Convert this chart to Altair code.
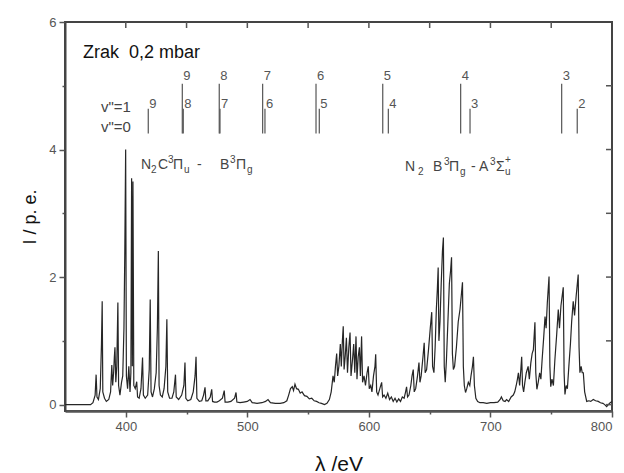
import altair as alt
import pandas as pd

# Emission spectrum of air at 0.2 mbar (wavelength, intensity in arbitrary units)
wavelength = [
    350.0, 371.0, 373.0, 374.8, 375.6, 376.3, 377.5, 379.0, 380.0, 380.6,
    381.1, 382.5, 384.0, 386.0, 387.5, 388.5, 389.2, 390.0, 390.6, 391.1,
    391.8, 392.6, 393.5, 394.1, 395.2, 396.5, 397.5, 398.5, 399.2, 399.9,
    400.5, 401.5, 402.5, 403.5, 404.2, 404.8, 405.4, 405.9, 406.6, 407.8,
    409.0, 409.7, 411.0, 412.5, 413.8, 414.5, 416.0, 418.0, 419.3, 420.1,
    420.8, 422.0, 423.5, 425.0, 426.0, 426.8, 427.4, 428.5, 430.0, 431.5,
    433.0, 433.8, 434.5, 436.0, 438.0, 439.5, 440.9, 441.5, 443.5, 446.0,
    447.8, 448.7, 449.4, 451.0, 453.5, 455.5, 457.0, 457.8, 458.5, 460.5,
    462.5, 464.0, 465.2, 465.9, 467.5, 469.5, 470.7, 471.4, 473.0, 475.0,
    477.0, 479.5, 481.0, 481.7, 484.0, 486.5, 489.5, 490.7, 491.4, 494.0,
    497.0, 500.0, 502.2, 504.0, 508.0, 512.0, 515.0, 517.0, 519.0, 523.0,
    527.0, 530.0, 532.5, 534.0, 535.5, 537.0, 538.0, 539.2, 540.5, 542.0,
    543.5, 545.0, 547.0, 549.0, 551.0, 553.0, 555.0, 557.0, 559.0, 561.0,
    563.5, 565.5, 567.5, 569.0, 570.5, 571.5, 572.5, 573.5, 574.3, 575.3,
    576.5, 577.3, 578.2, 578.9, 579.6, 580.5, 581.5, 582.4, 583.5, 584.5,
    585.3, 586.5, 587.5, 588.4, 589.4, 590.2, 591.2, 592.2, 593.0, 594.0,
    594.8, 596.0, 597.2, 598.5, 599.5, 600.3, 601.5, 602.5, 603.8, 605.0,
    605.6, 606.4, 607.5, 609.0, 610.5, 611.3, 612.5, 614.0, 615.5, 617.0,
    618.5, 620.0, 621.5, 623.0, 624.5, 626.0, 627.5, 629.0, 630.2, 631.0,
    631.8, 633.0, 634.5, 635.5, 636.5, 637.3, 638.5, 640.0, 641.2, 642.0,
    643.0, 644.5, 645.5, 646.3, 647.5, 649.0, 650.5, 651.7, 652.4, 653.5,
    654.5, 655.5, 656.3, 657.0, 657.6, 658.5, 659.5, 660.5, 661.3, 662.0,
    662.8, 663.8, 665.0, 666.2, 667.2, 668.0, 668.7, 669.5, 670.5, 672.0,
    673.5, 675.0, 676.2, 677.0, 677.7, 678.5, 679.5, 680.5, 681.8, 683.0,
    684.0, 685.2, 686.0, 686.8, 688.0, 689.5, 691.4, 694.0, 697.0, 700.0,
    703.0, 706.0, 708.0, 709.0, 710.5, 712.0, 713.3, 715.0, 717.0, 718.8,
    720.0, 721.2, 722.2, 723.0, 724.0, 725.0, 725.7, 726.4, 727.3, 728.3,
    729.5, 731.0, 732.0, 733.2, 734.3, 735.3, 736.6, 737.3, 738.2, 739.3,
    740.5, 741.5, 742.5, 743.8, 744.9, 745.8, 746.8, 748.2, 748.9, 749.6,
    750.6, 751.8, 753.0, 754.5, 755.8, 756.8, 758.0, 759.9, 760.6, 761.3,
    762.3, 763.3, 764.5, 765.8, 766.8, 768.1, 769.2, 770.5, 772.2, 772.9,
    773.6, 774.6, 775.5, 776.4, 777.5, 779.2, 781.0, 782.5, 784.6, 786.5,
    788.7, 790.5, 792.5, 794.0, 795.6, 797.0, 798.5, 800.0,
]
intensity = [
    0.00, 0.00, 0.03, 0.15, 0.47, 0.12, 0.08, 0.25, 0.95, 1.62,
    0.20, 0.10, 0.05, 0.08, 0.20, 0.62, 0.30, 0.50, 0.75, 0.90,
    0.35, 0.60, 1.60, 0.30, 0.15, 0.35, 0.45, 1.20, 2.40, 4.00,
    0.45, 0.25, 0.60, 0.20, 0.50, 3.55, 0.60, 3.50, 0.30, 0.25,
    0.36, 0.12, 0.10, 0.25, 0.74, 0.15, 0.10, 0.15, 0.55, 1.65,
    0.20, 0.12, 0.25, 0.50, 1.20, 2.41, 0.30, 0.15, 0.12, 0.25,
    0.60, 1.34, 0.20, 0.10, 0.10, 0.20, 0.47, 0.12, 0.08, 0.15,
    0.30, 0.66, 0.10, 0.06, 0.08, 0.20, 0.45, 0.75, 0.10, 0.05,
    0.06, 0.15, 0.27, 0.06, 0.06, 0.12, 0.24, 0.05, 0.04, 0.04,
    0.06, 0.10, 0.22, 0.04, 0.04, 0.05, 0.10, 0.19, 0.04, 0.03,
    0.04, 0.05, 0.08, 0.03, 0.02, 0.03, 0.05, 0.08, 0.03, 0.02,
    0.02, 0.03, 0.06, 0.15, 0.25, 0.28, 0.22, 0.32, 0.25, 0.24,
    0.18, 0.20, 0.14, 0.13, 0.09, 0.10, 0.06, 0.05, 0.03, 0.02,
    0.00, 0.02, 0.08, 0.20, 0.45, 0.35, 0.60, 0.80, 0.45, 0.60,
    0.95, 0.60, 1.00, 1.23, 0.55, 0.75, 1.05, 0.50, 0.90, 1.13,
    0.45, 0.70, 0.95, 0.50, 1.07, 0.40, 0.75, 0.90, 0.45, 1.07,
    0.35, 0.45, 0.30, 0.50, 0.60, 0.25, 0.30, 0.20, 0.45, 0.60,
    0.79, 0.20, 0.15, 0.25, 0.35, 0.12, 0.15, 0.10, 0.18, 0.08,
    0.12, 0.05, 0.10, 0.04, 0.09, 0.05, 0.12, 0.10, 0.20, 0.28,
    0.12, 0.15, 0.30, 0.45, 0.55, 0.20, 0.25, 0.45, 0.66, 0.35,
    0.45, 0.75, 0.97, 0.50, 0.55, 0.85, 1.20, 1.45, 0.60, 0.50,
    0.90, 1.50, 1.80, 2.15, 1.00, 1.30, 1.90, 2.40, 2.62, 0.60,
    0.35, 0.70, 1.30, 1.90, 2.10, 2.31, 0.80, 0.55, 0.60, 0.90,
    1.30, 1.50, 1.75, 1.92, 0.60, 0.30, 0.19, 0.25, 0.35, 0.30,
    0.45, 0.60, 0.75, 0.30, 0.10, 0.05, 0.03, 0.03, 0.02, 0.03,
    0.03, 0.04, 0.08, 0.12, 0.06, 0.05, 0.08, 0.05, 0.12, 0.15,
    0.20, 0.30, 0.40, 0.50, 0.30, 0.55, 0.75, 0.30, 0.20, 0.35,
    0.50, 0.60, 0.40, 0.65, 0.80, 0.86, 1.29, 0.50, 0.24, 0.35,
    0.50, 0.40, 0.70, 1.05, 1.38, 1.20, 1.60, 2.01, 0.60, 0.28,
    0.40, 0.30, 0.70, 1.10, 1.49, 1.20, 1.55, 1.84, 0.50, 0.16,
    0.30, 0.25, 0.60, 0.95, 1.30, 1.62, 1.40, 1.70, 2.04, 0.90,
    0.50, 0.60, 0.50, 0.50, 0.20, 0.05, 0.06, 0.05, 0.08, 0.06,
    0.05, 0.03, 0.02, 0.00, -0.03, 0.00, 0.03, 0.05,
]

# Band-head markers: v'=1 progression (upper row) and v'=0 progression (lower row)
upper_heads = [446.5, 476.9, 512.6, 556.5, 611.4, 675.5, 758.6]
upper_labels = ["9", "8", "7", "6", "5", "4", "3"]
lower_heads = [418.5, 447.3, 477.5, 514.5, 559.2, 616.0, 683.2, 771.4]
lower_labels = ["9", "8", "7", "6", "5", "4", "3", "2"]

x_ticks = [400, 450, 500, 550, 600, 650, 700, 750, 800]
y_ticks = [0, 1, 2, 3, 4, 5, 6]

FONT = "Liberation Sans"
W, H = 547, 389
x_scale = alt.Scale(domain=[350, 800], nice=False, zero=False)
y_scale = alt.Scale(domain=[-0.1, 6], nice=False, zero=False)

spec = pd.DataFrame({"wl": wavelength, "I": intensity})

line = alt.Chart(spec).mark_line(color="#262626", strokeWidth=1.2, interpolate="linear").encode(
    x=alt.X("wl:Q", scale=x_scale, axis=alt.Axis(
        values=x_ticks,
        labelExpr="datum.value % 100 === 0 ? format(datum.value, 'd') : ''",
        tickSize={"expr": "datum.value % 100 === 0 ? 6 : 3"},
        labelFont=FONT, labelFontSize=13, labelColor="#555", labelPadding=3,
        domainColor="#555", domainWidth=2.5, tickColor="#555", tickWidth=1.5,
        grid=False, title="λ /eV", titleFont=FONT, titleFontSize=21,
        titleFontWeight="normal", titleColor="#111",
        titleBaseline="alphabetic", titleY=59,
    )),
    y=alt.Y("I:Q", scale=y_scale, axis=alt.Axis(
        values=y_ticks,
        labelExpr="datum.value % 2 === 0 ? format(datum.value, 'd') : ''",
        tickSize={"expr": "datum.value % 2 === 0 ? 6 : 3"},
        labelFont=FONT, labelFontSize=13, labelColor="#555", labelPadding=3,
        domainColor="#444", domainWidth=2, tickColor="#555", tickWidth=1.5,
        grid=False, title="I / p. e.", titleFont=FONT, titleFontSize=18,
        titleFontWeight="normal", titleColor="#111",
        titleBaseline="alphabetic", titleX=-30,
    )),
)

# Inward ticks on the top and right frame edges
top_ticks = alt.Chart(pd.DataFrame({"t": x_ticks[:-1]})).mark_rule(color="#555", strokeWidth=1.5).encode(
    x=alt.X("t:Q", scale=x_scale), y=alt.value(0), y2=alt.value(6)
)
right_ticks = alt.Chart(pd.DataFrame({"t": y_ticks[:-1]})).mark_rule(color="#555", strokeWidth=1.5).encode(
    y=alt.Y("t:Q", scale=y_scale), x=alt.value(W), x2=alt.value(W - 6)
)

up = pd.DataFrame({"x": upper_heads, "lab": upper_labels, "y0": 4.25, "y1": 5.03, "ly": 5.16})
lo = pd.DataFrame({"x": lower_heads, "lab": lower_labels, "y0": 4.25, "y1": 4.64, "ly": 4.72})

def head_layers(df):
    rules = alt.Chart(df).mark_rule(color="#555", strokeWidth=1.2).encode(
        x=alt.X("x:Q", scale=x_scale), y=alt.Y("y0:Q", scale=y_scale), y2="y1:Q"
    )
    labs = alt.Chart(df).mark_text(
        align="left", baseline="middle", dx=1, font=FONT, fontSize=13, color="#555"
    ).encode(x=alt.X("x:Q", scale=x_scale), y=alt.Y("ly:Q", scale=y_scale), text="lab:N")
    return rules + labs

def text_at(x, y, s, size, color, dx=0, dy=0, baseline="alphabetic", align="left"):
    return alt.Chart(pd.DataFrame({"x": [x], "y": [y], "s": [s]})).mark_text(
        align=align, baseline=baseline, dx=dx, dy=dy, font=FONT, fontSize=size, color=color
    ).encode(x=alt.X("x:Q", scale=x_scale), y=alt.Y("y:Q", scale=y_scale), text="s:N")

def term_label(x, y, pieces, color="#444"):
    # pieces: (text, horizontal offset px, vertical offset px, font size)
    return [text_at(x, y, s, size, color, dx=dx, dy=dy) for s, dx, dy, size in pieces]

c_b = term_label(412.5, 3.69, [
    ("N", 0, 0, 14), ("2", 10, 4, 10), ("C", 17, 0, 14), ("3", 27, -6, 10),
    ("Π", 32, 0, 14), ("u", 43, 4, 10), ("-", 56, 0, 14), ("B", 79, 0, 14),
    ("3", 89, -6, 10), ("Π", 95, 0, 14), ("g", 106, 4, 10),
])
b_a = term_label(629.7, 3.66, [
    ("N", 0, 0, 14), ("2", 13, 4, 10), ("B", 28, 0, 14), ("3", 39, -6, 10),
    ("Π", 44, 0, 14), ("g", 55, 4, 10), ("-", 66, 0, 14), ("A", 74, 0, 14),
    ("3", 85, -6, 10), ("Σ", 91, 0, 14), ("+", 100, -8, 10), ("u", 100, 4, 10),
])

extra = [
    text_at(364.8, 5.52, "Zrak\u00a0\u00a00,2 mbar", 18, "#111", baseline="middle"),
    text_at(379.6, 4.67, 'v"=1', 15, "#444", baseline="middle"),
    text_at(379.6, 4.36, 'v"=0', 15, "#444", baseline="middle"),
]

chart = alt.layer(
    line, top_ticks, right_ticks, head_layers(up), head_layers(lo), *c_b, *b_a, *extra
).properties(
    width=W, height=H,
    autosize=alt.AutoSizeParams(type="none"),
    padding={"left": 65, "top": 22, "right": 12, "bottom": 62},
    background="white",
).configure_view(stroke="#444", strokeWidth=2)

chart.save("out.html", embed_options={"renderer": "svg", "actions": False})
